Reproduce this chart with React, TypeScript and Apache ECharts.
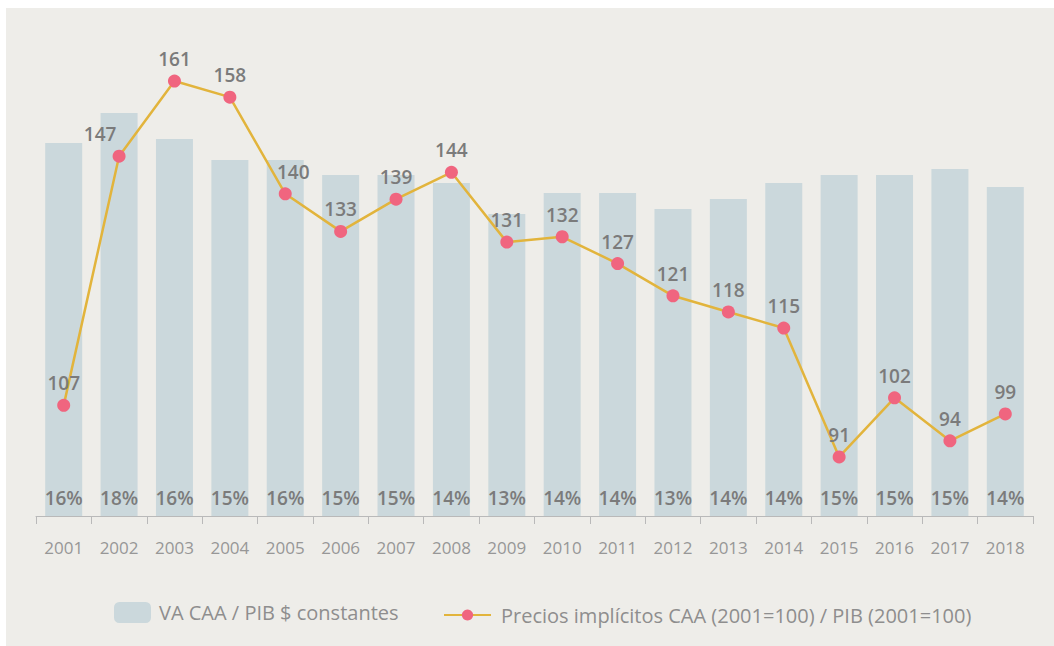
import React, { useEffect, useRef } from "react";
import * as echarts from "echarts";

const years = ["2001","2002","2003","2004","2005","2006","2007","2008","2009","2010","2011","2012","2013","2014","2015","2016","2017","2018"];
const barValues = [16.22,17.52,16.39,15.48,15.48,14.83,14.83,14.48,13.13,14.04,14.04,13.35,13.78,14.48,14.83,14.83,15.09,14.3];
const barLabels = ["16%","18%","16%","15%","16%","15%","15%","14%","13%","14%","14%","13%","14%","14%","15%","15%","15%","14%"];
const lineValues = [100.6,147,161,158,140,133,139,144,131,132,127,121,118,115,91,102,94,99];
const lineLabels = ["107","147","161","158","140","133","139","144","131","132","127","121","118","115","91","102","94","99"];
const barName = "VA CAA / PIB $ constantes";
const lineName = "Precios implícitos CAA (2001=100) / PIB (2001=100)";
const labelOffsets: Record<number, number[]> = { 1: [-19, 0], 4: [8, 0] };

const FONT = "'Open Sans', sans-serif";

export default function App() {
  const ref = useRef<HTMLDivElement>(null);
  useEffect(() => {
    if (!ref.current) return;
    const chart = echarts.init(ref.current, null, { renderer: "svg" });
    chart.setOption({
      animation: false,
      backgroundColor: "transparent",
      textStyle: { fontFamily: FONT },
      grid: { left: 36, right: 21, top: 30, bottom: 130 },
      legend: [
        {
          data: [barName],
          left: 109,
          top: 597,
          itemWidth: 37,
          itemHeight: 21,
          textStyle: { color: "#8e8e8e", fontSize: 20, fontFamily: FONT, padding: [0, 0, 0, 3] },
        },
        {
          data: [lineName],
          left: 438,
          top: 600,
          itemWidth: 47,
          itemHeight: 14,
          textStyle: { color: "#8e8e8e", fontSize: 20, fontFamily: FONT, padding: [0, 0, 0, 5] },
        },
      ],
      xAxis: {
        type: "category",
        data: years,
        boundaryGap: true,
        axisLine: { lineStyle: { color: "#b9b9b9", width: 1 } },
        axisTick: { show: true, length: 8, lineStyle: { color: "#b9b9b9" } },
        axisLabel: { color: "#979797", fontSize: 17, margin: 23, fontFamily: FONT },
      },
      yAxis: [
        { type: "value", min: 0, max: 21.13, show: false, splitLine: { show: false } },
        { type: "value", min: 80, max: 170.5, show: false, splitLine: { show: false } },
      ],
      series: [
        {
          name: barName,
          type: "bar",
          yAxisIndex: 0,
          data: barValues,
          barWidth: 37,
          itemStyle: { color: "#cbd8dc" },
          label: {
            show: true,
            position: "insideBottom",
            distance: 9,
            color: "#7b7b7b",
            fontSize: 19,
            fontWeight: 600,
            fontFamily: FONT,
            formatter: (p: any) => barLabels[p.dataIndex],
          },
          z: 1,
        },
        {
          name: lineName,
          type: "line",
          yAxisIndex: 1,
          data: lineValues.map((v, i) =>
            labelOffsets[i] ? { value: v, label: { offset: labelOffsets[i] } } : v
          ),
          symbol: "circle",
          symbolSize: 13,
          lineStyle: { color: "#e2b43c", width: 2.5 },
          itemStyle: { color: "#f0657f" },
          label: {
            show: true,
            position: "top",
            distance: 6,
            color: "#7b7b7b",
            fontSize: 19,
            fontWeight: 600,
            fontFamily: FONT,
            formatter: (p: any) => lineLabels[p.dataIndex],
          },
          z: 3,
        },
      ],
    });
    return () => chart.dispose();
  }, []);
  return (
    <div style={{ position: "fixed", left: 0, top: 0, width: 1054, height: 646, background: "#ffffff" }}>
      <div style={{ position: "absolute", left: 6, top: 8, right: 0, bottom: 0, background: "#eeede9" }} />
      <div ref={ref} style={{ position: "absolute", left: 0, top: 0, width: 1054, height: 646 }} />
    </div>
  );
}
